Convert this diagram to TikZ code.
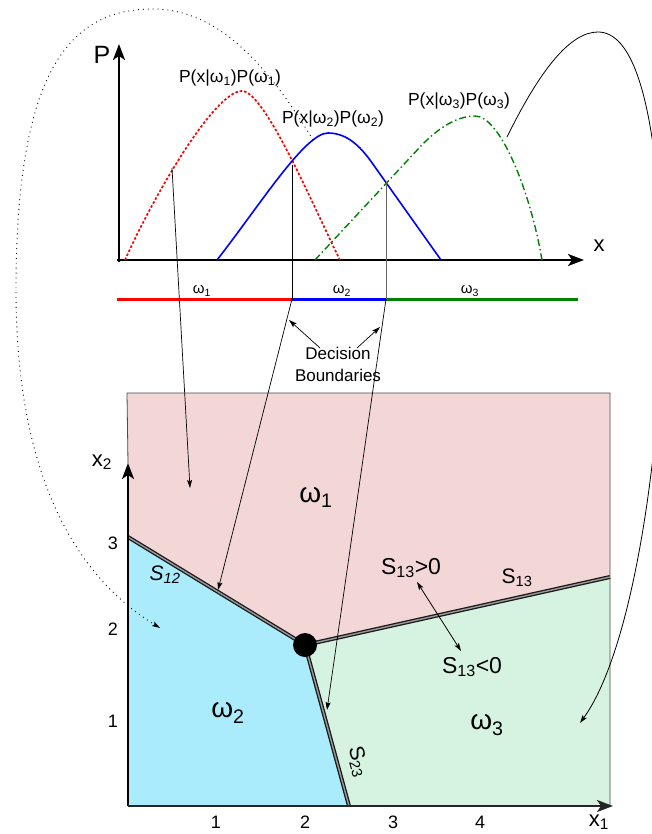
\documentclass[tikz,border=0pt]{standalone}
\usepackage{fontspec}
\setmainfont{Liberation Sans}
\usetikzlibrary{arrows.meta}
\newcommand\mysub[1]{\textsubscript{#1}}
\definecolor{pinkr}{HTML}{F3D6D6}
\definecolor{bluer}{HTML}{AAEBFC}
\definecolor{greenr}{HTML}{D6F3E2}
\definecolor{dgreen}{HTML}{008000}
\begin{document}
\begin{tikzpicture}[x=1pt,y=-1pt,
  fs/.style={font=\fontsize{#1}{#1}\selectfont},
  lbl/.style={inner sep=0pt},
  axis/.style={line width=2.2pt, -{Stealth[length=16pt,width=12pt,inset=4pt]}},
  thinarrow/.style={line width=0.7pt, -{Stealth[length=8pt,width=5pt,inset=1.5pt]}},
  boundary/.style={draw=black!90, line width=1.3pt, double=black!40, double distance=1.4pt},
]
\useasboundingbox (0,0) rectangle (652,834);

% ---------- bottom plot ----------
\coordinate (O) at (128,806);
\coordinate (TL) at (127,393);
\coordinate (TR) at (610,393);
\coordinate (A12) at (128,537);
\coordinate (J) at (305,645);
\coordinate (A13) at (610,577);
\coordinate (A23) at (349,806);
\coordinate (BR) at (610,806);
\coordinate (X2tip) at (128,463);
\coordinate (X1tip) at (613,806);

\fill[pinkr] (TL) -- (TR) -- (A13) -- (J) -- (A12) -- cycle;
\fill[bluer] (A12) -- (J) -- (A23) -- (O) -- cycle;
\fill[greenr] (J) -- (A13) -- (BR) -- (A23) -- cycle;
\draw[black!70, line width=0.8pt] (X2tip) -- (TL) -- (TR) -- (BR);

\draw[boundary] (A12) -- (J);
\draw[boundary] (J) -- (A13);
\draw[boundary] (J) -- (A23);
\fill (J) circle (12pt);

\draw[axis] (O) -- (X2tip);
\draw[axis, black!85] (O) -- (X1tip);

\node[lbl, fs=22] (x2lab) at (102,462) {x\mysub{2}};
\node[lbl, fs=22] (x1lab) at (599,822) {x\mysub{1}};
\node[lbl, fs=18] (t1) at (216,822) {1};
\node[lbl, fs=18] (t2) at (305,822) {2};
\node[lbl, fs=18] (t3) at (393,822) {3};
\node[lbl, fs=18] (t4) at (480,822) {4};
\node[lbl, fs=18] (v3) at (113,543) {3};
\node[lbl, fs=18] (v2) at (113,629) {2};
\node[lbl, fs=18] (v1) at (113,721) {1};

\node[lbl, fs=28] (w1) at (316,497) {ω\mysub{1}};
\node[lbl, fs=28] (w2) at (228,713) {ω\mysub{2}};
\node[lbl, fs=28] (w3) at (487,725) {ω\mysub{3}};

\node[lbl, font=\fontsize{21}{21}\selectfont\itshape] (s12) at (165,575) {S\mysub{12}};
\node[lbl, fs=21] (s13) at (517,578) {S\mysub{13}};
\node[lbl, fs=21, rotate=-75] (s23) at (358,762) {S\mysub{23}};
\node[lbl, fs=23] (s13p) at (411,568) {S\mysub{13}>0};
\node[lbl, fs=23] (s13n) at (472,667) {S\mysub{13}<0};
\coordinate (dA) at (417,582);
\coordinate (dB) at (461,651);
\draw[line width=0.8pt, {Stealth[length=8pt,width=5pt,inset=1.5pt]}-{Stealth[length=8pt,width=5pt,inset=1.5pt]}] (dA) -- (dB);

% ---------- top plot ----------
\coordinate (P0) at (119,262);
\coordinate (Ptip) at (119,44);
\coordinate (X0) at (117,260);
\coordinate (Xtip) at (584,260);
\draw[axis] (P0) -- (Ptip);
\draw[axis] (X0) -- (Xtip);
\node[lbl, fs=25] (Plab) at (102,55) {P};
\node[lbl, fs=22] (xlab) at (599,246) {x};

\draw[red, line width=1.7pt, dash pattern=on 2.5pt off 2pt]
  (125,260) .. controls (155,193) and (215,91) .. (242,91)
            .. controls (265,91) and (315,210) .. (340,260);
\draw[blue, line width=1.6pt]
  (217,260) .. controls (260,205) and (305,133) .. (328,133)
            .. controls (348,133) and (361,148) .. (370,160) -- (441,260);
\draw[dgreen, line width=1.4pt, dash pattern=on 7pt off 3pt on 1.5pt off 3pt]
  (315,260) -- (420,147) .. controls (435,131) and (455,116) .. (475,116)
            .. controls (500,116) and (530,190) .. (542,260);

\node[lbl, fs=17.5] (l1) at (230,78) {P(x|ω\mysub{1})P(ω\mysub{1})};
\node[lbl, fs=17.5] (l2) at (333,119) {P(x|ω\mysub{2})P(ω\mysub{2})};
\node[lbl, fs=17.5] (l3) at (459,101) {P(x|ω\mysub{3})P(ω\mysub{3})};

% decision bar
\coordinate (B0) at (117,299);
\coordinate (B12) at (292,299);
\coordinate (B23) at (386,299);
\coordinate (B3) at (578,299);
\draw[red, line width=3pt] (B0) -- (B12);
\draw[blue, line width=3pt] (B12) -- (B23);
\draw[dgreen, line width=3pt] (B23) -- (B3);
\node[lbl, fs=15] (bw1) at (202,291) {ω\mysub{1}};
\node[lbl, fs=15] (bw2) at (342,291) {ω\mysub{2}};
\node[lbl, fs=15] (bw3) at (470,291) {ω\mysub{3}};

\coordinate (C12) at (292,165);
\coordinate (C23) at (386,182);
\draw[line width=0.7pt] (C12) -- (B12);
\draw[black!60, line width=0.8pt] (C23) -- (B23);

\node[lbl, align=center, font=\fontsize{17}{22}\selectfont] (db) at (338,364) {Decision\\Boundaries};
\coordinate (dbL) at (320,348);
\coordinate (dbR) at (357,348);
\coordinate (dbLt) at (289,320);
\coordinate (dbRt) at (380,327);
\draw[thinarrow] (dbL) -- (dbLt);
\draw[thinarrow] (dbR) -- (dbRt);

% connectors top -> bottom
\coordinate (R1) at (172,168);
\coordinate (T1) at (190,488);
\coordinate (T2) at (218,590);
\coordinate (T3) at (327,710);
\draw[thinarrow] (R1) -- (T1);
\draw[thinarrow] (B12) -- (T2);
\draw[thinarrow] (B23) -- (T3);

% dotted arc
\coordinate (D0) at (313,140);
\coordinate (D3) at (160,628);
\draw[line width=0.9pt, dash pattern=on 0.9pt off 4pt, -{Stealth[length=8pt,width=5pt,inset=1.5pt]}]
  (D0) .. controls (265,60) and (215,9) .. (153,9)
       .. controls (70,9) and (16,70) .. (16,290)
       .. controls (16,430) and (50,560) .. (D3);

% solid arc on right
\coordinate (E0) at (507,137);
\coordinate (E3) at (580,723);
\begin{scope}
\clip (0,0) rectangle (652,834);
\draw[thinarrow, line width=0.8pt]
  (E0) .. controls (540,70) and (570,32) .. (598,32)
       .. controls (630,32) and (655,90) .. (662,250)
       .. controls (668,394) and (640,640) .. (E3);
\end{scope}
\end{tikzpicture}
\end{document}
